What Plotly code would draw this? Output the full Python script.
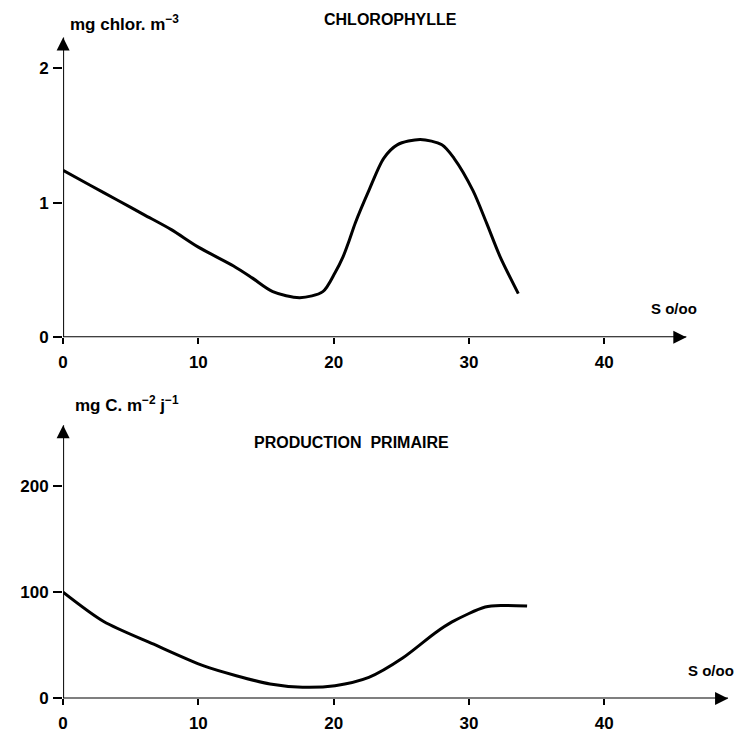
import plotly.graph_objects as go

# Chlorophyll concentration versus salinity
sal_chl = [0, 2, 4, 6, 8, 10, 12.6, 14, 15.5, 17.5, 19.2, 20.1, 20.7, 21.15, 21.6,
           22.6, 23.7, 24.7, 26.4, 28.0, 28.9, 30.3, 31.3, 32.3, 33.65]
chl = [1.24, 1.13, 1.02, 0.91, 0.80, 0.67, 0.53, 0.44, 0.34, 0.295, 0.34, 0.48, 0.60,
       0.72, 0.85, 1.09, 1.33, 1.43, 1.47, 1.43, 1.33, 1.09, 0.85, 0.60, 0.325]

# Primary production versus salinity
sal_pp = [0, 3.0, 6.7, 10.4, 12.8, 15.3, 17.7, 20.1, 22.6, 25.1, 27.5, 28.75, 31.2, 32.5, 34.3]
pp = [100, 72.4, 51, 30.6, 21.4, 13.6, 10.5, 12, 19.8, 38, 61.6, 72, 86, 87.5, 87]

x_ticks = [0, 10, 20, 30, 40]
chl_ticks = [0, 1, 2]
pp_ticks = [0, 100, 200]

W, H = 736, 739
FONT = "Liberation Sans, Arial, sans-serif"
PX_PER_UNIT = 13.62
X0_PX = 58.5
X_END = (734 - X0_PX) / PX_PER_UNIT

fig = go.Figure()
fig.add_trace(go.Scatter(x=sal_chl, y=chl, mode="lines", xaxis="x", yaxis="y",
                         line=dict(color="black", width=3, shape="spline", smoothing=0.8),
                         showlegend=False, hoverinfo="skip"))
fig.add_trace(go.Scatter(x=sal_pp, y=pp, mode="lines", xaxis="x2", yaxis="y2",
                         line=dict(color="black", width=3, shape="spline", smoothing=0.8),
                         showlegend=False, hoverinfo="skip"))


def py(px):
    return (H - px) / H


tickfont = dict(family=FONT, size=17, color="black", weight="bold")
common_x = dict(range=[0, X_END], domain=[X0_PX / W, 734 / W], tickvals=x_ticks,
                ticks="outside", ticklen=6, tickwidth=1.5, tickcolor="black",
                ticklabelstandoff=3,
                showgrid=False, zeroline=False, showline=False, tickfont=tickfont)
common_y = dict(ticks="outside", ticklen=9, tickwidth=1.5, tickcolor="black",
                ticklabelstandoff=1,
                showgrid=False, zeroline=False, showline=False, tickfont=tickfont)

chl_top = (342 - 30) / 136.5
pp_top = (708 - 420) / 1.077

fig.update_layout(
    width=W, height=H, margin=dict(l=0, r=0, t=0, b=0),
    paper_bgcolor="white", plot_bgcolor="white",
    xaxis=dict(anchor="y", **common_x),
    yaxis=dict(anchor="x", range=[0, chl_top], domain=[py(342), py(30)],
               tickvals=chl_ticks, **common_y),
    xaxis2=dict(anchor="y2", **common_x),
    yaxis2=dict(anchor="x2", range=[0, pp_top], domain=[py(708), py(420)],
                tickvals=pp_ticks, **common_y),
)


# Axis lines drawn as shapes, each ending in an arrowhead marker
def axis_arrow(xr, yr, x_end, y_end, symbol):
    fig.add_shape(type="line", xref=xr, yref=yr, x0=0, y0=0, x1=x_end, y1=y_end,
                  line=dict(color="black", width=2))
    fig.add_trace(go.Scatter(x=[x_end], y=[y_end], xaxis=xr, yaxis=yr,
                             mode="markers", cliponaxis=False,
                             marker=dict(symbol=symbol, size=13, color="black",
                                         line=dict(width=0)),
                             showlegend=False, hoverinfo="skip"))


axis_arrow("x", "y", (686 - X0_PX) / PX_PER_UNIT, 0, "arrow-right")
axis_arrow("x", "y", 0, (342 - 38) / 136.5, "arrow-up")
axis_arrow("x2", "y2", (728 - X0_PX) / PX_PER_UNIT, 0, "arrow-right")
axis_arrow("x2", "y2", 0, (708 - 431) / 1.077, "arrow-up")


def label(text, xpx, ypx, size, anchor="center"):
    fig.add_annotation(x=xpx / W, y=py(ypx), xref="paper", yref="paper", text=text,
                       showarrow=False, xanchor=anchor, yanchor="middle",
                       font=dict(family=FONT, size=size, color="black", weight="bold"))


label("CHLOROPHYLLE", 388, 20, 16)
label("PRODUCTION  PRIMAIRE", 349, 449, 16)
label("mg chlor. m<sup>−3</sup>", 63, 23, 17, "left")
label("mg C. m<sup>−2</sup> j<sup>−1</sup>", 68, 410, 17, "left")
label("S o/oo", 674, 313, 15)
label("S o/oo", 711, 680, 15)

fig.write_html("out.html")
